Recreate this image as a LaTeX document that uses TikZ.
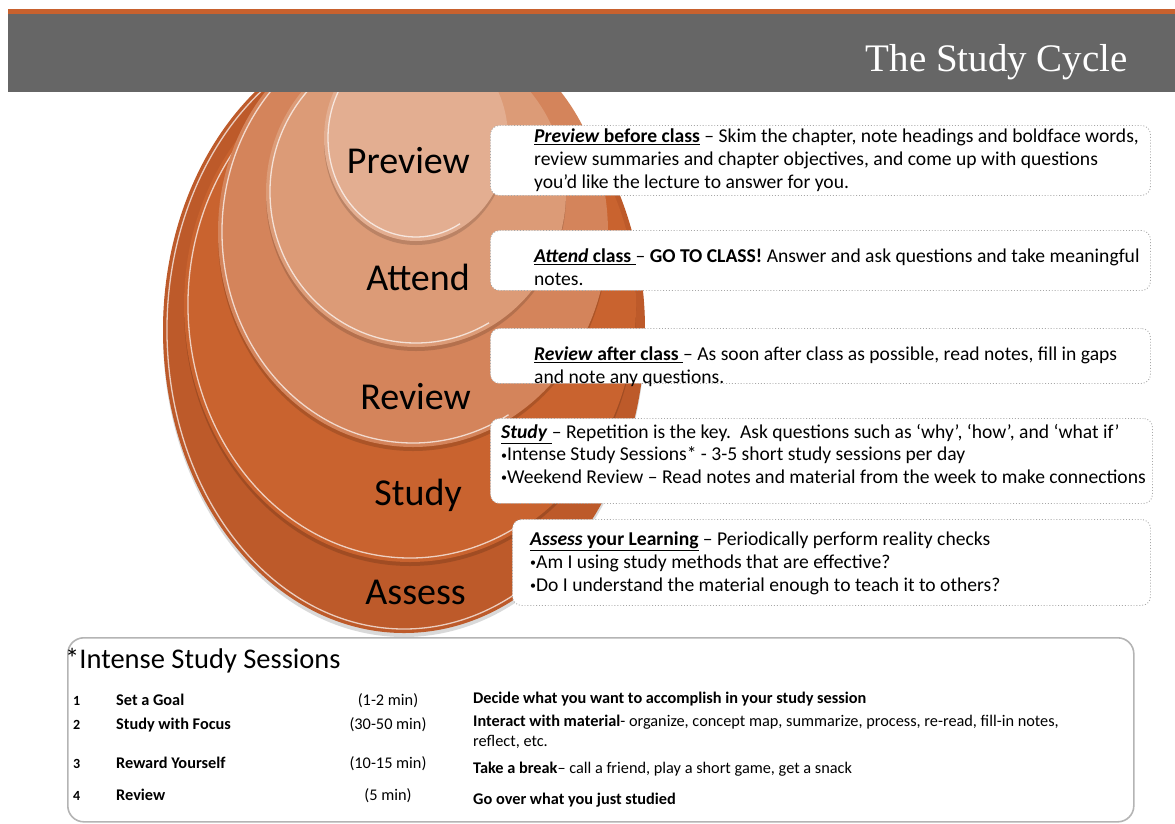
\documentclass[tikz,border=0pt]{standalone}
\usepackage{fontspec}
\setmainfont{Carlito}
\newfontfamily\titlefont{Liberation Serif}
\usetikzlibrary{positioning}
\definecolor{hdrgray}{HTML}{666666}
\definecolor{hdrorange}{HTML}{C8612E}
\definecolor{cPreview}{HTML}{E3AE91}
\definecolor{cAttend}{HTML}{DC9B77}
\definecolor{cReview}{HTML}{D4845B}
\definecolor{cStudy}{HTML}{C9632F}
\definecolor{cAssess}{HTML}{BD5A2A}
\definecolor{boxgray}{HTML}{A8A8A8}
\definecolor{panelgray}{HTML}{B4B4B4}
\newcommand\smallbul{\raisebox{0.2ex}{\fontsize{12}{12}\selectfont •}}
\tikzset{lbl/.style={font=\fontsize{38}{40}\selectfont, inner sep=0pt, anchor=base east}}
\tikzset{infobox/.style={draw=boxgray, dotted, line width=0.9pt, rounded corners=9pt, fill=white, anchor=north west, inner sep=0pt}}
\tikzset{infotext/.style={font=\fontsize{19.6}{22.6}\selectfont, align=left, anchor=north west, inner sep=0pt}}
\tikzset{cell/.style={font=\fontsize{16.3}{19}\selectfont, anchor=base west, inner sep=0pt}}
\tikzset{boldcell/.style={cell, font=\bfseries\fontsize{16.3}{19}\selectfont}}
\tikzset{numcell/.style={cell, font=\bfseries\fontsize{14}{16}\selectfont}}
\tikzset{timecell/.style={cell, anchor=base}}
\tikzset{ringshadow/.style={black, opacity=0.15}}
\tikzset{hilite/.style={white, opacity=0.7, line width=1.3pt}}

\begin{document}
\begin{tikzpicture}[x=1pt,y=-1pt]
\useasboundingbox (0,0) rectangle (1175,823);

% stacked rings, outermost first
\fill[ringshadow] (404,334) ellipse [x radius=241pt, y radius=303pt];
\fill[cAssess] (404,330) ellipse [x radius=241pt, y radius=303pt];
\draw[hilite] ([shift={(404,330)}]100:237pt and 299pt) arc [start angle=100, end angle=300, x radius=237pt, y radius=299pt];

\fill[ringshadow] (410,309) ellipse [x radius=226pt, y radius=257pt];
\fill[cStudy] (410,305) ellipse [x radius=226pt, y radius=257pt];
\draw[hilite] ([shift={(410,305)}]100:222pt and 253pt) arc [start angle=100, end angle=300, x radius=222pt, y radius=253pt];

\fill[ringshadow] (413,236) ellipse [x radius=195pt, y radius=215pt];
\fill[cReview] (413,232) ellipse [x radius=195pt, y radius=215pt];
\draw[hilite] ([shift={(413,232)}]100:191pt and 211pt) arc [start angle=100, end angle=300, x radius=191pt, y radius=211pt];

\fill[ringshadow] (416,196) ellipse [x radius=150pt, y radius=155pt];
\fill[cAttend] (416,192) ellipse [x radius=150pt, y radius=155pt];
\draw[hilite] ([shift={(416,192)}]100:146pt and 151pt) arc [start angle=100, end angle=300, x radius=146pt, y radius=151pt];

\fill[ringshadow] (416,142) ellipse [x radius=92pt, y radius=103pt];
\fill[cPreview] (416,138) ellipse [x radius=92pt, y radius=103pt];
\draw[hilite] ([shift={(416,138)}]100:88pt and 99pt) arc [start angle=100, end angle=300, x radius=88pt, y radius=99pt];

% header bar
\fill[hdrorange] (8,9) rectangle (1175,14);
\fill[hdrgray] (8,14) rectangle (1175,92);
\node[font=\titlefont\fontsize{39}{40}\selectfont, text=white, anchor=base east, inner sep=0pt] (title) at (1128,71) {The Study Cycle};

% ring labels
\node[lbl] (lPreview) at (470,173) {Preview};
\node[lbl] (lAttend) at (470,290) {Attend};
\node[lbl] (lReview) at (471,409) {Review};
\node[lbl] (lStudy) at (462,505) {Study};
\node[lbl] (lAssess) at (466,604) {Assess};

% explanation boxes
\node[infobox, minimum width=660pt, minimum height=70pt] (bxPreview) at (490,125) {};
\node[infotext] (tPreview) at (534,129) {\underline{\textbf{\textit{Preview} before class}} – Skim the chapter, note headings and boldface words,\\
review summaries and chapter objectives, and come up with questions\\
you’d like the lecture to answer for you.};

\node[infobox, minimum width=660pt, minimum height=60pt] (bxAttend) at (490,230) {};
\node[infotext] (tAttend) at (534,249) {\underline{\textbf{\textit{Attend} class\ }}– \textbf{GO TO CLASS!} Answer and ask questions and take meaningful\\
notes.};

\node[infobox, minimum width=660pt, minimum height=55pt] (bxReview) at (490,328) {};
\node[infotext] (tReview) at (534,347) {\underline{\textbf{\textit{Review} after class\ }}– As soon after class as possible, read notes, fill in gaps\\
and note any questions.};

\node[infobox, minimum width=662pt, minimum height=85pt] (bxStudy) at (490,418) {};
\node[infotext] (tStudy) at (501,424) {\underline{\textbf{\textit{Study}}\ }– Repetition is the key.\ \ Ask questions such as ‘why’, ‘how’, and ‘what if’\\
\smallbul Intense Study Sessions* - 3-5 short study sessions per day\\
\smallbul Weekend Review – Read notes and material from the week to make connections};

\node[infobox, minimum width=638pt, minimum height=86pt] (bxAssess) at (512,519) {};
\node[infotext] (tAssess) at (530,532) {\underline{\textbf{\textit{Assess} your Learning}} – Periodically perform reality checks\\
\smallbul Am I using study methods that are effective?\\
\smallbul Do I understand the material enough to teach it to others?};

% sessions panel
\node[draw=panelgray, line width=1.6pt, rounded corners=16pt, minimum width=1066pt, minimum height=184pt, anchor=north west, inner sep=0pt] (panel) at (67,637) {};
\node[font=\fontsize{28.5}{30}\selectfont, anchor=base west, inner sep=0pt] (sessHead) at (65,668) {*Intense Study Sessions};

\node[numcell] (num1) at (73,705) {1};
\node[boldcell] (task1) at (116,705) {Set a Goal};
\node[timecell] (time1) at (388,705) {(1-2 min)};
\node[cell] (desc1) at (473,703) {\textbf{Decide what you want to accomplish in your study session}};

\node[numcell] (num2) at (73,729) {2};
\node[boldcell] (task2) at (116,729) {Study with Focus};
\node[timecell] (time2) at (388,729) {(30-50 min)};
\node[cell] (desc2) at (473,726) {\textbf{Interact with material}- organize, concept map, summarize, process, re-read, fill-in notes,};
\node[cell] (desc2b) at (473,746) {reflect, etc.};

\node[numcell] (num3) at (73,768) {3};
\node[boldcell] (task3) at (116,768) {Reward Yourself};
\node[timecell] (time3) at (388,768) {(10-15 min)};
\node[cell] (desc3) at (473,773) {\textbf{Take a break}– call a friend, play a short game, get a snack};

\node[numcell] (num4) at (73,800) {4};
\node[boldcell] (task4) at (116,800) {Review};
\node[timecell] (time4) at (388,800) {(5 min)};
\node[cell] (desc4) at (473,804) {\textbf{Go over what you just studied}};
\end{tikzpicture}
\end{document}
